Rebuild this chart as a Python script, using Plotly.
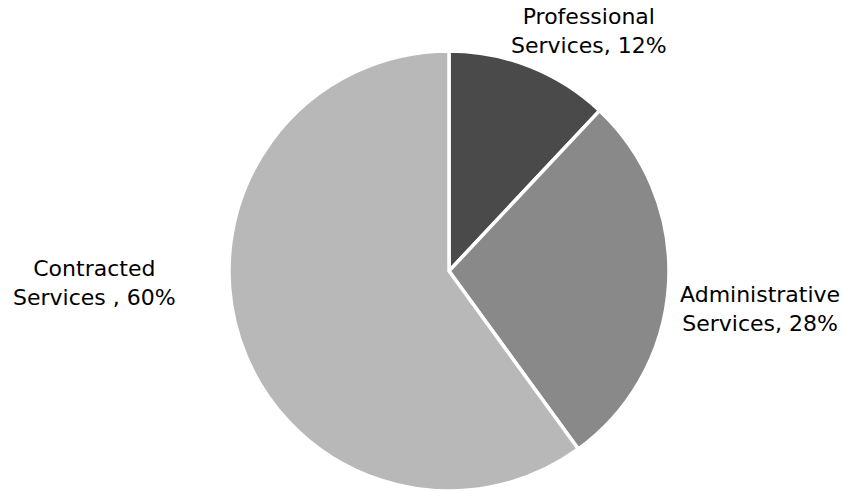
import plotly.graph_objects as go

labels = ["Professional Services", "Administrative Services", "Contracted Services "]
values = [12, 28, 60]
label_lines = ["Professional<br>Services", "Administrative<br>Services", "Contracted<br>Services "]
colors = ["#4a4a4a", "#898989", "#b8b8b8"]

W, H = 843, 491
cx, cy, r = 449, 271, 220

fig = go.Figure(go.Pie(
    labels=labels,
    values=values,
    sort=False,
    direction="clockwise",
    rotation=0,
    marker=dict(colors=colors, line=dict(color="white", width=3.5)),
    textinfo="none",
    hoverinfo="label+percent",
    showlegend=False,
    domain=dict(x=[(cx - r) / W, (cx + r) / W], y=[max(0, 1 - (cy + r) / H), 1 - (cy - r) / H]),
))

label_pos = [(589, 31), (760, 309), (94, 283)]
for txt, v, (x, y) in zip(label_lines, values, label_pos):
    text = txt.rstrip() + (" ," if txt.endswith(" ") else ",") + f" {v}%"
    fig.add_annotation(
        x=x / W, y=1 - y / H, xref="paper", yref="paper",
        text=text,
        showarrow=False, xanchor="center", yanchor="middle",
        font=dict(family="DejaVu Sans", size=22, color="#000000"),
        align="center",
    )

fig.update_layout(
    width=W, height=H,
    margin=dict(l=0, r=0, t=0, b=0),
    paper_bgcolor="white",
    plot_bgcolor="white",
)

fig.write_html(
    "out.html",
    config={"displayModeBar": False},
    post_script="document.body.style.margin='0';document.body.style.overflow='hidden';",
)
